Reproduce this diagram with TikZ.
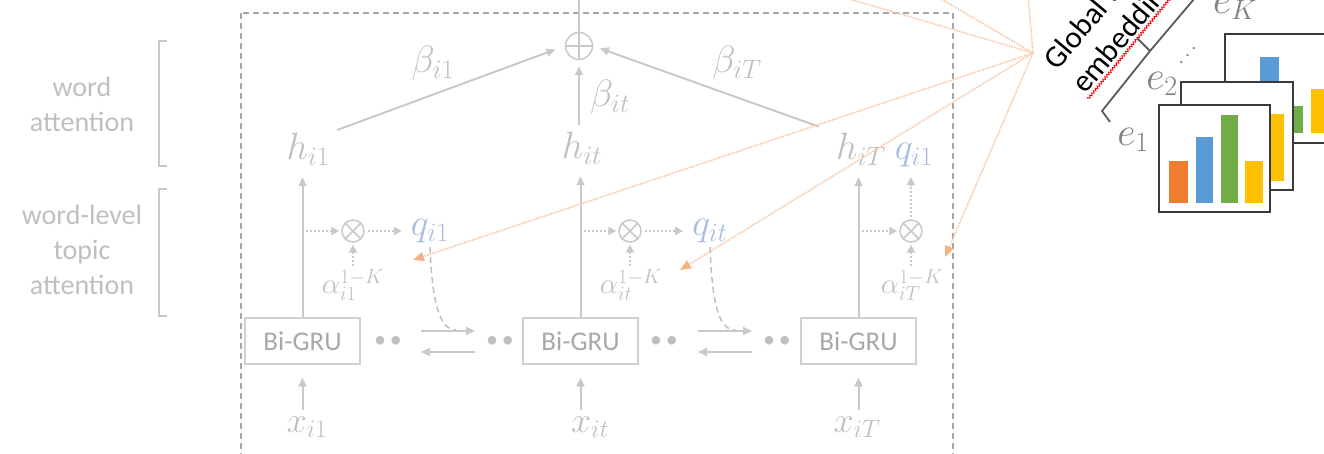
\RequirePackage{fix-cm}
\documentclass[tikz,border=0pt]{standalone}
\usepackage{fontspec}
\newfontfamily\carl{Carlito}
\usetikzlibrary{arrows.meta,decorations.pathmorphing}
\definecolor{lg}{HTML}{C9C9C9}
\definecolor{tg}{HTML}{BFBFBF}
\definecolor{qb}{HTML}{A9BCE0}
\definecolor{orl}{HTML}{F8CBAD}
\definecolor{ora}{HTML}{F4B183}
\definecolor{dbx}{HTML}{A6A6A6}
\definecolor{gb}{HTML}{D0D0D0}
\definecolor{gt}{HTML}{A8A8A8}
\definecolor{eg}{HTML}{7F7F7F}
\definecolor{bord}{HTML}{3A3A3A}
\definecolor{brk}{HTML}{5A5A5A}
\definecolor{cor}{HTML}{ED7D31}
\definecolor{cbl}{HTML}{5B9BD5}
\definecolor{cgr}{HTML}{70AD47}
\definecolor{cye}{HTML}{FFC000}
\begin{document}
\begin{tikzpicture}[x=1pt,y=-1pt,
  mlbl/.style={text=tg,inner sep=0pt,font=\fontsize{38}{44}\selectfont},
  xlbl/.style={mlbl,font=\fontsize{36}{42}\selectfont},
  qlbl/.style={mlbl,text=qb},
  albl/.style={text=tg,inner sep=0pt,font=\fontsize{29}{34}\selectfont},
  elbl/.style={mlbl,text=eg,font=\fontsize{40}{46}\selectfont},
  sidetxt/.style={text=tg,align=center,inner sep=0pt,font=\carl\fontsize{28}{35}\selectfont},
  brkline/.style={draw=lg,line width=2pt},
  gline/.style={draw=lg,line width=2pt},
  garrow/.style={gline,-{Triangle[length=9pt,width=8pt]}},
  gdots/.style={draw=lg,line width=2pt,dash pattern=on 2pt off 2pt,-{Triangle[length=8pt,width=8pt]}},
  gdash/.style={draw=tg,line width=1.5pt,dash pattern=on 6pt off 4pt},
  dashbox/.style={draw=dbx,line width=1.3pt,dash pattern=on 6pt off 4pt},
  gru/.style={draw=gb,line width=1.2pt,minimum width=115pt,minimum height=46pt,text=gt,inner sep=0pt,font=\carl\fontsize{27}{30}\selectfont},
  opcirc/.style={circle,draw=lg,line width=1.5pt,minimum size=22pt,inner sep=0pt},
  dotsn/.style={text=tg,inner sep=0pt,font=\carl\fontsize{24}{24}\selectfont},
  orline/.style={draw=orl,line width=1.6pt,densely dotted},
  orarrow/.style={orline,-{Triangle[length=11pt,width=9pt,color=ora]}},
  card/.style={draw=bord,fill=white,line width=1.8pt},
  gtext/.style={text=black,inner sep=0pt,anchor=base west,rotate=50,font=\carl\fontsize{31}{36}\selectfont}
]
\useasboundingbox (0,0) rectangle (1324,454);
\clip (0,0) rectangle (1324,454);

% left side labels
\node[sidetxt] (wa) at (82,104) {word\\attention};
\node[sidetxt] (wt) at (82,250) {word-level\\topic\\attention};
\draw[brkline] (167,41) -- (159,41) -- (159,166) -- (167,166);
\draw[brkline] (167,189) -- (159,189) -- (159,316) -- (167,316);

% dashed frame
\draw[dashbox] (241,13) rectangle (953,480);

% sum
\node[opcirc,minimum size=27pt] (sum) at (579,46) {};
\draw[draw=lg,line width=1.5pt] (sum.north) -- (sum.south) (sum.west) -- (sum.east);
\coordinate (top) at (579,-10);
\draw[gline] (sum.north) -- (top);

% beta labels
\node[mlbl] (b1) at (433,63) {$\beta_{i1}$};
\node[mlbl] (b2) at (610,97) {$\beta_{it}$};
\node[mlbl] (b3) at (737,63) {$\beta_{iT}$};

% h labels
\node[mlbl] (h1) at (308,149) {$h_{i1}$};
\node[mlbl] (h2) at (582,148) {$h_{it}$};
\node[mlbl] (h3) at (861,149) {$h_{iT}$};
\node[qlbl] (q3) at (914,155) {$q_{i1}$};

% attention arrows
\draw[garrow,shorten <=8pt,shorten >=10pt] (h1.north east) -- (sum.west);
\draw[garrow,shorten <=18pt,shorten >=7pt] (h3.north west) -- (sum.east);
\draw[garrow,shorten <=7pt,shorten >=6pt] (sum.south |- h2.north) -- (sum.south);

% Bi-GRU
\node[gru] (g1) at (302.5,341) {Bi-GRU};
\node[gru] (g2) at (580.5,341) {Bi-GRU};
\node[gru] (g3) at (858.5,341) {Bi-GRU};

% x labels
\node[xlbl] (x1) at (307,427) {$x_{i1}$};
\node[xlbl] (x2) at (590,427) {$x_{it}$};
\node[xlbl] (x3) at (857,427) {$x_{iT}$};
\draw[garrow,shorten <=6pt,shorten >=13pt] (g1.south |- x1.north) -- (g1.south);
\draw[garrow,shorten <=6pt,shorten >=13pt] (g2.south |- x2.north) -- (g2.south);
\draw[garrow,shorten <=6pt,shorten >=13pt] (g3.south |- x3.north) -- (g3.south);

% GRU to h
\draw[garrow,shorten >=12pt] (g1.north) -- (g1.north |- h1.south);
\draw[garrow,shorten >=12pt] (g2.north) -- (g2.north |- h2.south);
\draw[garrow,shorten >=12pt] (g3.north) -- (g3.north |- h3.south);

% topic attention
\node[opcirc] (m1) at (353,231) {};
\node[opcirc] (m2) at (630,231) {};
\node[opcirc] (m3) at (911,231) {};
\foreach \m in {m1,m2,m3}{
  \draw[draw=lg,line width=1.5pt] (\m.45) -- (\m.225) (\m.135) -- (\m.315);
}
\node[qlbl] (q1) at (430,231) {$q_{i1}$};
\node[qlbl] (q2) at (710,231) {$q_{it}$};
\node[albl] (a1) at (353,285) {$\alpha_{i1}^{1-K}$};
\node[albl] (a2) at (631,285) {$\alpha_{it}^{1-K}$};
\node[albl] (a3) at (912,285) {$\alpha_{iT}^{1-K}$};

\draw[gdots,shorten <=3pt,shorten >=2pt] (g1.north |- m1.west) -- (m1.west);
\draw[gdots,shorten <=3pt,shorten >=2pt] (g2.north |- m2.west) -- (m2.west);
\draw[gdots,shorten <=3pt,shorten >=2pt] (g3.north |- m3.west) -- (m3.west);
\draw[gdots,shorten <=3pt,shorten >=9pt] (m1.east) -- (q1.west);
\draw[gdots,shorten <=3pt,shorten >=9pt] (m2.east) -- (q2.west);
\draw[gdots,shorten <=3pt,shorten >=2pt] (m1.south |- a1.north) -- (m1.south);
\draw[gdots,shorten <=3pt,shorten >=2pt] (m2.south |- a2.north) -- (m2.south);
\draw[gdots,shorten <=3pt,shorten >=2pt] (m3.south |- a3.north) -- (m3.south);
\draw[gdots,shorten <=2pt,shorten >=10pt] (m3.north) -- (m3.north |- q3.south);

% recurrent arrows and dots
\node[dotsn] (d1) at (388,342) {•\,•};
\node[dotsn] (d2) at (500,342) {•\,•};
\node[dotsn] (d3) at (664,342) {•\,•};
\node[dotsn] (d4) at (777,342) {•\,•};
\coordinate (ra1) at (421,331); \coordinate (rb1) at (475,331);
\coordinate (la1) at (475,352); \coordinate (lb1) at (421,352);
\coordinate (ra2) at (698,331); \coordinate (rb2) at (752,331);
\coordinate (la2) at (752,352); \coordinate (lb2) at (698,352);
\draw[garrow] (ra1) -- (rb1);
\draw[garrow] (la1) -- (lb1);
\draw[garrow] (ra2) -- (rb2);
\draw[garrow] (la2) -- (lb2);
\coordinate (c1) at (456,330);
\coordinate (c2) at (735,330);
\draw[gdash] ([yshift=-4pt]q1.south) .. controls +(2,50) and +(-18,0) .. (c1);
\draw[gdash] ([yshift=-4pt]q2.south) .. controls +(2,50) and +(-18,0) .. (c2);

% orange topic lines
\coordinate (F) at (1033,53);
\coordinate (o1) at (413,260);
\coordinate (o2) at (680,270);
\coordinate (o3) at (945,257);
\coordinate (t1) at (839,-4);
\coordinate (t2) at (936,-4);
\coordinate (t3) at (1028,-4);
\draw[orarrow] (F) -- (o1);
\draw[orarrow] (F) -- (o2);
\draw[orarrow] (F) -- (o3);
\draw[orline] (F) -- (t1);
\draw[orline] (F) -- (t2);
\draw[orline] (F) -- (t3);

% global topic embedding text
\node[gtext] (gt1) at (1057,72) {Global topic};
\node[gtext] (gt2) at (1085,95) {embedding};
\draw[red,line width=0.8pt,decorate,decoration={zigzag,segment length=3pt,amplitude=1.2pt}] (1088,99) -- (1172,-4);
\draw[draw=brk,line width=1.8pt] (1110,122) -- (1102,111) -- (1150,51) -- (1137,38) (1150,51) -- (1200,-8);

% e labels
\node[elbl] (e1) at (1133,140) {$e_1$};
\node[elbl] (e2) at (1162,84) {$e_2$};
\node[elbl] (eK) at (1235,8) {$e_K$};
\node[text=eg,inner sep=0pt,rotate=50,font=\fontsize{22}{22}\selectfont] (ed) at (1188,56) {$\cdots$};

% cards
\draw[card] (1225,34) rectangle (1336,143);
\fill[cor] (1235,110) rectangle (1253,133);
\fill[cbl] (1260,57) rectangle (1279,133);
\fill[cgr] (1285,106) rectangle (1303,133);
\fill[cye] (1311,89) rectangle (1329,133);
\draw[card] (1181,82) rectangle (1293,190);
\fill[cor] (1191,140) rectangle (1209,181);
\fill[cbl] (1216,125) rectangle (1234,181);
\fill[cgr] (1241,150) rectangle (1259,181);
\fill[cye] (1266,114) rectangle (1284,181);
\draw[card] (1159,105) rectangle (1270,212);
\fill[cor] (1169,161) rectangle (1188,203);
\fill[cbl] (1196,137) rectangle (1213,203);
\fill[cgr] (1221,115) rectangle (1238,203);
\fill[cye] (1245,161) rectangle (1263,203);
\end{tikzpicture}
\end{document}
